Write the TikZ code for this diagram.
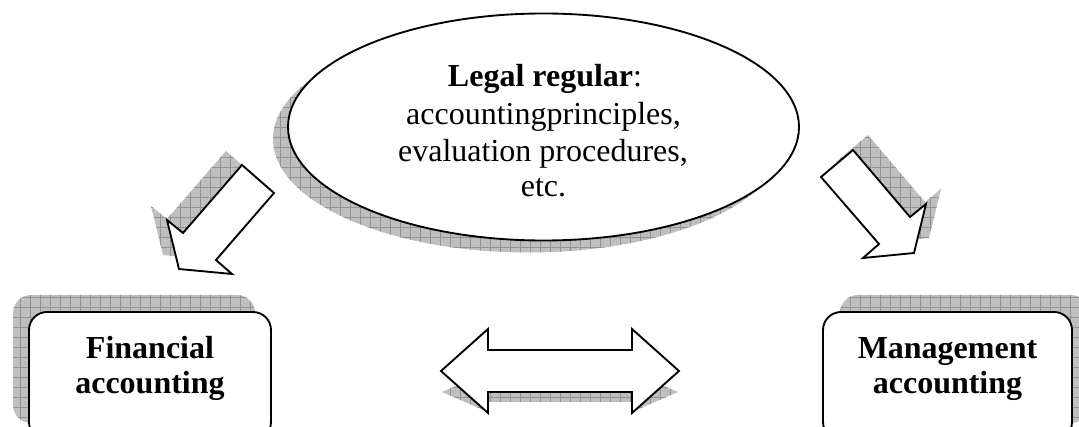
\documentclass[tikz,border=0pt]{standalone}
\usepackage{fontspec}
\setmainfont{Liberation Serif}
\usetikzlibrary{shapes.geometric,patterns}
\pgfdeclarepatternformonly{shadowgrid}{\pgfqpoint{-1pt}{-1pt}}{\pgfqpoint{7.5pt}{7.5pt}}{\pgfqpoint{7.5pt}{7.5pt}}{%
  \pgfsetlinewidth{0.45pt}%
  \pgfpathqmoveto{0pt}{0pt}\pgfpathqlineto{0pt}{7.6pt}%
  \pgfpathqmoveto{0pt}{0pt}\pgfpathqlineto{7.6pt}{0pt}%
  \pgfusepath{stroke}}
\tikzset{
  shadowfill/.style={draw=none, preaction={fill=gray!50}, pattern=shadowgrid, pattern color=gray!85},
  outline/.style={draw=black, line width=1.4pt, fill=white, line join=miter},
  boxshape/.style={rectangle, rounded corners=13.5pt, inner sep=0pt},
  txt/.style={font=\fontsize{24}{28}\selectfont, inner sep=0pt, anchor=base},
  btxt/.style={txt, font=\fontsize{24}{28}\selectfont\bfseries},
}
\begin{document}
\begin{tikzpicture}[x=0.75pt, y=-0.75pt]
\useasboundingbox (0,0) rectangle (1079,427);
\clip (0,0) rectangle (1079,427);
% shadows
\node[ellipse, shadowfill, minimum width=383.25pt, minimum height=170.25pt, inner sep=0pt] (legalshadow) at (528.5,139) {};
\node[boxshape, shadowfill, minimum width=181.5pt, minimum height=96pt] (finshadow) at (134,359) {};
\node[boxshape, shadowfill, minimum width=186.75pt, minimum height=96pt] (manshadow) at (964.5,359) {};
\path[shadowfill] (226,151) -- (258,179) -- (200,246) -- (216,260) -- (163,255) -- (151,206) -- (167,219) -- cycle;
\path[shadowfill] (836,162) -- (868,135) -- (925,202) -- (941,189) -- (929,238) -- (878,243) -- (894,229) -- cycle;
\path[shadowfill] (442,392) -- (488,372) -- (488,382) -- (632,382) -- (632,372) -- (678,392) -- (632,412) -- (632,402) -- (488,402) -- (488,412) -- cycle;
% main shapes
\node[ellipse, outline, minimum width=383.25pt, minimum height=170.25pt, inner sep=0pt] (legal) at (543.5,127) {};
\node[boxshape, outline, minimum width=181.5pt, minimum height=96pt] (fin) at (150,376) {};
\node[boxshape, outline, minimum width=186.75pt, minimum height=96pt] (man) at (947.5,376) {};
\draw[outline] (242,165) -- (274,193) -- (216,260) -- (232,274) -- (179,269) -- (167,220) -- (183,233) -- cycle;
\draw[outline] (821,177) -- (853,150) -- (910,217) -- (926,204) -- (914,253) -- (863,258) -- (879,244) -- cycle;
\draw[outline] (441,371) -- (488,329) -- (488,350) -- (632,350) -- (632,329) -- (679,371) -- (632,413) -- (632,392) -- (488,392) -- (488,413) -- cycle;
% texts
\node[txt] (l1) at (545,87) {\textbf{Legal regular}:};
\node[txt] (l2) at (543.5,125) {accountingprinciples,};
\node[txt] (l3) at (543,162) {evaluation procedures,};
\node[txt] (l4) at (543.5,197) {etc.};
\node[btxt] (fin1) at (150,359) {Financial};
\node[btxt] (fin2) at (150,394) {accounting};
\node[btxt] (man1) at (947.5,359) {Management};
\node[btxt] (man2) at (947.5,394) {accounting};
\end{tikzpicture}
\end{document}
